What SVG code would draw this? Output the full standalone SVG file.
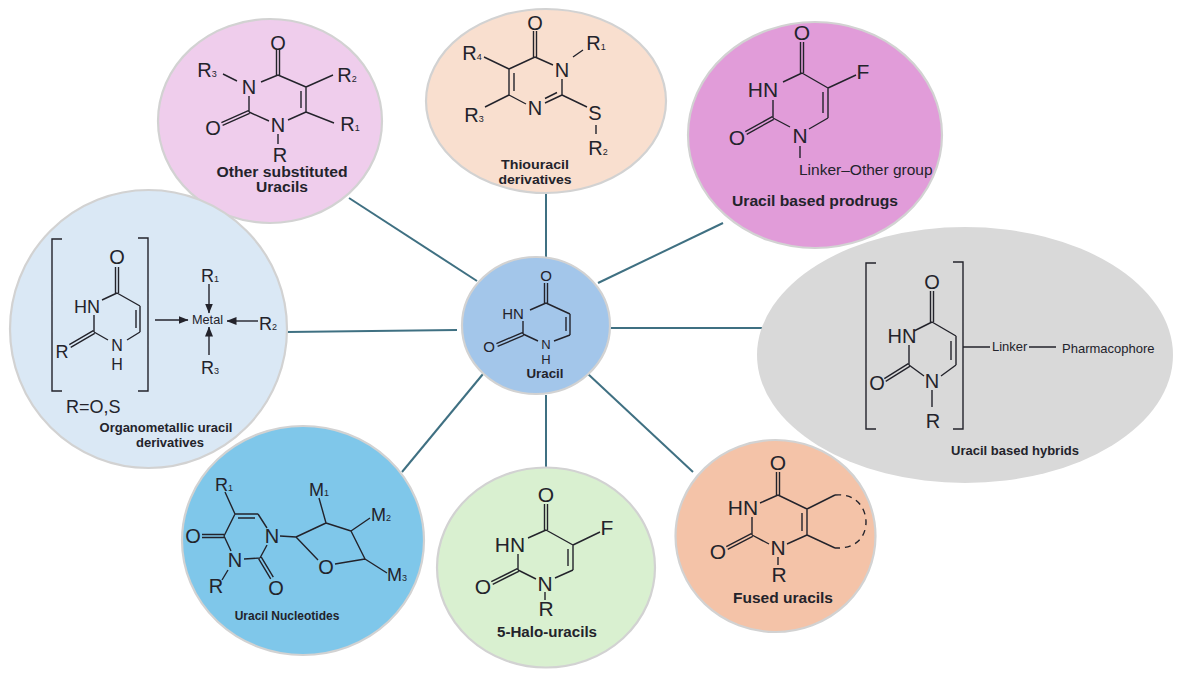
<svg xmlns="http://www.w3.org/2000/svg" width="1181" height="677" viewBox="0 0 1181 677">
<style>
text{font-family:"Liberation Sans",Arial,sans-serif;fill:#23232b}
.n{stroke:#d2d2d2;stroke-width:2.2}
.c{stroke:#3f7082;stroke-width:2;fill:none}
.b{stroke:#23232b;stroke-width:1.4;fill:none}
.a{font-size:20px;text-anchor:middle}
.g{font-size:21px;text-anchor:middle}
.o{font-size:18px;text-anchor:middle}
.m{font-size:15px;text-anchor:middle}
.l{font-weight:700;text-anchor:middle;font-size:13px}
.s{font-size:9px}
</style>
<defs>
<marker id="ah" markerUnits="userSpaceOnUse" markerWidth="10" markerHeight="8" refX="9.5" refY="4" orient="auto"><path d="M0,0 L10,4 L0,8 Z" fill="#23232b"/></marker>
</defs>
<rect width="1181" height="677" fill="#fff"/>
<g id="connectors">
<path class="c" d="M349,198 L477,281"/>
<path class="c" d="M546,193 L546,257"/>
<path class="c" d="M723,223 L598,283"/>
<path class="c" d="M610,328 L762,328"/>
<path class="c" d="M588,374 L693,472"/>
<path class="c" d="M546,395 L546,467"/>
<path class="c" d="M483,374 L402,472"/>
<path class="c" d="M287,332 L457,330"/>
</g>
<g id="node-other">
<ellipse class="n" cx="270" cy="121" rx="112" ry="102" fill="#efcdec"/>
<path class="b" d="M276.5,50V75M279.5,50V75M278,75L261,82M249,96V112M249,112L269,121M288,120L306,112M306,112V87M301,108V91M306,87L278,75M249.6,113.4L222.6,125.4M248.4,110.6L221.4,122.6M278,134V144M223,74L237,81M306,87L333,75M306,112L334,123"/>
<text class="a" x="278" y="50">O</text><text class="a" x="249" y="94">N</text><text class="a" x="278" y="132">N</text><text class="a" x="213" y="135">O</text><text class="a" x="280" y="162">R</text>
<text class="a" x="207" y="77">R<tspan class="s">3</tspan></text><text class="a" x="347" y="82">R<tspan class="s">2</tspan></text><text class="a" x="350" y="131">R<tspan class="s">1</tspan></text>
<text class="l" style="font-size:14.5px" x="282" y="177" textLength="131" lengthAdjust="spacingAndGlyphs">Other substituted</text><text class="l" style="font-size:14.5px" x="282" y="192" textLength="52" lengthAdjust="spacingAndGlyphs">Uracils</text>
</g>
<g id="node-thiouracil">
<ellipse class="n" cx="546" cy="101" rx="120" ry="92" fill="#f9dfcf"/>
<path class="b" d="M533.5,31V57M536.5,31V57M535,57L553,65M562,79V95M562,95L545,103M557,92.5L545,98.5M526,104L509,95M509,95V69M514,91V73M509,69L484,57M509,69L535,57M509,95L485,107M562,95L587,107M596,125V134M573,57L583,50"/>
<text class="a" x="535" y="30">O</text><text class="a" x="562" y="77">N</text><text class="a" x="535" y="115">N</text>
<text class="a" x="472" y="60">R<tspan class="s">4</tspan></text><text class="a" x="474" y="122">R<tspan class="s">3</tspan></text><text class="a" x="596" y="50">R<tspan class="s">1</tspan></text><text class="a" x="595" y="120">S</text><text class="a" x="598" y="155">R<tspan class="s">2</tspan></text>
<text class="l" style="font-size:13.5px" x="535" y="169" textLength="68" lengthAdjust="spacingAndGlyphs">Thiouracil</text><text class="l" style="font-size:13.5px" x="535" y="184" textLength="73" lengthAdjust="spacingAndGlyphs">derivatives</text>
</g>
<g id="node-prodrugs">
<ellipse class="n" cx="815" cy="135" rx="127" ry="113" fill="#e19cd9"/>
<path class="b" d="M800.5,42V73M803.5,42V73M802,73L783,82M773,100V118M773,118L790,127M809,129L828,118M828,118V88M823,113V92M828,88L802,73M828,88L856,75M772.3,116.7L745.3,131.7M773.7,119.3L746.7,134.3M800,146V158"/>
<text class="g" x="802" y="40">O</text><text class="g" x="763" y="97">HN</text><text class="g" x="800" y="143">N</text><text class="g" x="737" y="145">O</text><text class="g" x="863" y="79">F</text>
<text x="799" y="175" font-size="15.5">Linker–Other group</text>
<text class="l" style="font-size:15px" x="815" y="206" textLength="166" lengthAdjust="spacingAndGlyphs">Uracil based prodrugs</text>
</g>
<g id="node-hybrids">
<ellipse cx="965" cy="355" rx="208" ry="128" fill="#d9d9d9"/>
<path class="b" d="M876,263H866V429H876M953,262H963V429H953M930.5,291V322M933.5,291V322M932,322L914,331M909,345V365M909,365L924,376M941,376L956,365M956,365V336M951,360V341M956,336L932,322M908.3,363.7L884.3,378.7M909.7,366.3L885.7,381.3M932,390V407M963,347H990M1029,347H1056"/>
<text class="a" x="932" y="289">O</text><text class="a" x="902" y="343">HN</text><text class="a" x="932" y="388">N</text><text class="a" x="877" y="390">O</text><text class="a" x="933" y="428">R</text>
<text x="992" y="351" font-size="13">Linker</text><text x="1062" y="353" font-size="13">Pharmacophore</text>
<text class="l" x="1015" y="455">Uracil based hybrids</text>
</g>
<g id="node-fused">
<ellipse cx="775.5" cy="536" rx="101.5" ry="97.5" fill="#fff"/>
<ellipse class="n" cx="775.5" cy="536" rx="100" ry="96" fill="#f4c3a8"/>
<path class="b" d="M776.5,472V495M779.5,472V495M778,495L760,503M752,517V535M752,535L769,544M787,544L807,535M807,535V509M802,531V513M807,509L778,495M807,509L835,495M807,535L835,548M751.3,533.7L726.3,546.7M752.7,536.3L727.7,549.3M778,557V565"/>
<path class="b" stroke-dasharray="6 5" d="M835,495C858,493 866,510 866,522C866,535 858,549 835,548"/>
<text class="g" x="778" y="470">O</text><text class="g" x="743" y="515">HN</text><text class="g" x="778" y="555">N</text><text class="g" x="718" y="559">O</text><text class="g" x="779" y="582">R</text>
<text class="l" style="font-size:15px" x="783" y="603" textLength="100" lengthAdjust="spacingAndGlyphs">Fused uracils</text>
</g>
<g id="node-halo">
<ellipse class="n" cx="546" cy="567.5" rx="109" ry="100" fill="#d9f0d0"/>
<path class="b" d="M544.5,504V530M547.5,504V530M546,530L528,538M518,554V570M518,570L536,579M555,578L573,570M573,570V545M568,566V549M573,545L546,530M573,545L600,532M517.3,568.7L491.3,581.7M518.7,571.3L492.7,584.3M545,592V600"/>
<text class="g" x="546" y="502">O</text><text class="g" x="510" y="552">HN</text><text class="g" x="545" y="591">N</text><text class="g" x="483" y="594">O</text><text class="g" x="607" y="535">F</text><text class="g" x="546" y="616">R</text>
<text class="l" style="font-size:14.5px" x="547" y="637" textLength="100" lengthAdjust="spacingAndGlyphs">5-Halo-uracils</text>
</g>
<g id="node-organometallic">
<ellipse class="n" cx="148.5" cy="329" rx="138.5" ry="139" fill="#dae8f5"/>
<path class="b" d="M62,239H52V391H62M138,238H148V391H138M115.5,267V293M118.5,267V293M117,293L102,300M94,315V332M94,332L108,340M127,340L140,332M140,332V306M136,328V310M140,306L117,293M93.3,330.7L69.3,344.7M94.7,333.3L70.7,347.3"/>
<path class="b" marker-end="url(#ah)" d="M155,320H188"/><path class="b" marker-end="url(#ah)" d="M209,284V313"/><path class="b" marker-end="url(#ah)" d="M209,355V327"/><path class="b" marker-end="url(#ah)" d="M258,321H227"/>
<text class="a" x="117" y="264">O</text><text class="o" x="87" y="313">HN</text><text class="o" style="font-size:16px" x="117" y="351">N</text><text class="o" style="font-size:16px" x="117" y="370">H</text><text class="o" x="62" y="358">R</text>
<text x="192" y="324" font-size="12.7">Metal</text>
<text class="o" x="210" y="282">R<tspan class="s">1</tspan></text><text class="o" x="268" y="330">R<tspan class="s">2</tspan></text><text class="o" x="210" y="374">R<tspan class="s">3</tspan></text>
<text x="66" y="413" font-size="18">R=O,S</text>
<text class="l" x="166" y="432">Organometallic uracil</text><text class="l" x="170" y="447">derivatives</text>
</g>
<g id="node-nucleotides">
<ellipse class="n" cx="303" cy="540.5" rx="121" ry="114.5" fill="#7fc7ea"/>
<path class="b" d="M224,534.5H202M224,537.5H202M224,536L235,514M235,514H258M238,518H255M258,514L267,528M267,545L260,558M260,558L244,559M231,551L224,536M258.7,558.8L270.7,578.8M261.3,557.2L273.3,577.2M228,570L222,580M225,492L235,514M280,536L296,537M296,537L326,523M326,523L351,531M351,531L365,559M365,559L335,564M318,560L296,537M319,498L326,523M370,518L351,531M387,573L365,559"/>
<text class="a" x="193" y="543">O</text><text class="a" x="272" y="543">N</text><text class="a" x="235" y="567">N</text><text class="a" x="276" y="595">O</text><text class="a" x="216" y="593">R</text><text class="a" x="326" y="574">O</text>
<text class="o" x="224" y="491">R<tspan class="s">1</tspan></text><text class="o" x="319" y="496">M<tspan class="s">1</tspan></text><text class="o" x="381" y="521">M<tspan class="s">2</tspan></text><text class="o" x="397" y="581">M<tspan class="s">3</tspan></text>
<text class="l" style="font-size:12px" x="287" y="620">Uracil Nucleotides</text>
</g>
<g id="node-uracil">
<ellipse class="n" cx="536" cy="325.5" rx="74" ry="68.5" fill="#a3c6ea"/>
<path class="b" d="M544.5,283V303M547.5,283V303M546,303L530,310M523,321V334M523,334L538,341M554,341L570,335M570,335V314M566,331V317M570,314L546,303M522.4,332.6L496.4,343.6M523.6,335.4L497.6,346.4"/>
<text class="m" x="546" y="281">O</text><text class="m" x="513" y="319">HN</text><text class="m" style="font-size:13px" x="546" y="349">N</text><text class="m" style="font-size:13px" x="546" y="364">H</text><text class="m" x="489" y="352">O</text>
<text class="l" style="font-size:12px" x="545" y="378" textLength="37" lengthAdjust="spacingAndGlyphs">Uracil</text>
</g>
</svg>
